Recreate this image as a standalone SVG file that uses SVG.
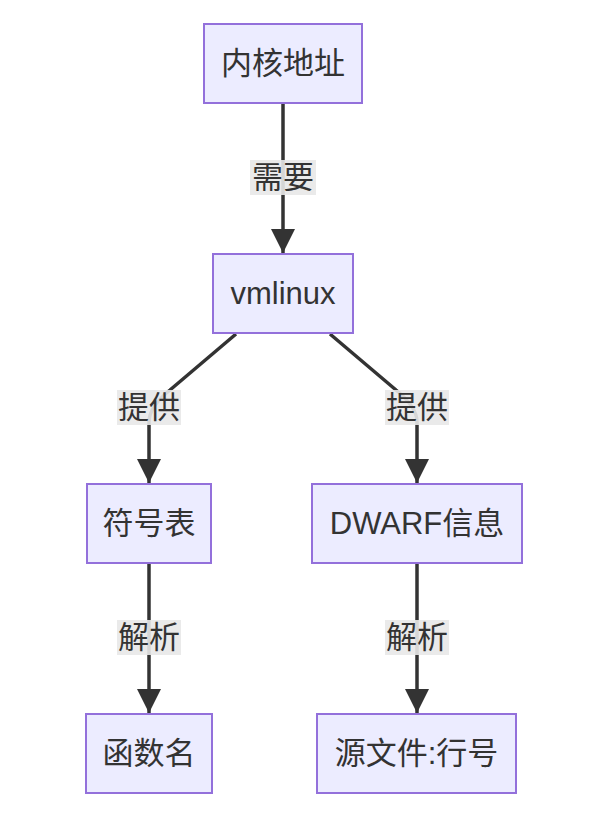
<svg xmlns="http://www.w3.org/2000/svg" width="614" height="834" viewBox="0 0 614 834">
<defs>
<style>
.node rect{fill:#ECECFF;stroke:#9370DB;stroke-width:2}
text{font-family:"Liberation Sans","Noto Sans CJK SC",sans-serif;font-size:31px;fill:#333;text-anchor:middle;dominant-baseline:central}
.edge{fill:none;stroke:#333;stroke-width:3.5}
.lbl rect{fill:#e8e8e8;opacity:0.9}
</style>
<marker id="arr" viewBox="0 0 10 10" refX="10" refY="5" markerWidth="7" markerHeight="7" markerUnits="strokeWidth" orient="auto">
<path d="M0,0 L10,5 L0,10 z" fill="#333"/>
</marker>
</defs>
<rect width="614" height="834" fill="#fff"/>
<g id="connectors">
<path class="edge" d="M283,104 L283,253" marker-end="url(#arr)"/>
<path class="edge" d="M236,334 L170,390 Q149,407 149,422 L149,483" marker-end="url(#arr)"/>
<path class="edge" d="M330,334 L396,390 Q417,407 417,422 L417,483" marker-end="url(#arr)"/>
<path class="edge" d="M149,564 L149,713" marker-end="url(#arr)"/>
<path class="edge" d="M417,564 L417,713" marker-end="url(#arr)"/>
<g class="lbl"><rect x="250" y="160" width="66" height="35"/><text x="283" y="177.5">需要</text></g>
<g class="lbl"><rect x="117" y="390" width="64" height="35"/><text x="149" y="407.5">提供</text></g>
<g class="lbl"><rect x="385" y="390" width="64" height="35"/><text x="417" y="407.5">提供</text></g>
<g class="lbl"><rect x="117" y="620" width="64" height="35"/><text x="149" y="637.5">解析</text></g>
<g class="lbl"><rect x="385" y="620" width="64" height="35"/><text x="417" y="637.5">解析</text></g>
</g>
<g id="n1" class="node"><rect x="204" y="24" width="158" height="79"/><text x="283" y="63.5">内核地址</text></g>
<g id="n2" class="node"><rect x="213" y="254" width="140" height="79"/><text x="283" y="293.5">vmlinux</text></g>
<g id="n3" class="node"><rect x="87" y="484" width="124" height="79"/><text x="149" y="523.5">符号表</text></g>
<g id="n4" class="node"><rect x="312" y="484" width="210" height="79"/><text x="417" y="523.5">DWARF信息</text></g>
<g id="n5" class="node"><rect x="86" y="714" width="126" height="79"/><text x="149" y="753.5">函数名</text></g>
<g id="n6" class="node"><rect x="317" y="714" width="199" height="79"/><text x="416.5" y="753.5">源文件:行号</text></g>
</svg>
